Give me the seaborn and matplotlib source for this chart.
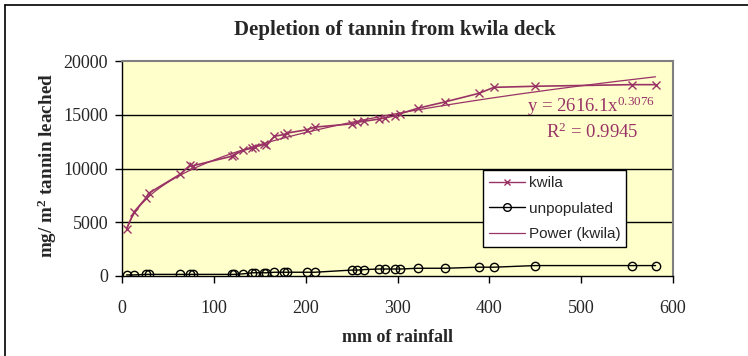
import numpy as np
import pandas as pd
import seaborn as sns
import matplotlib
matplotlib.use("Agg")
import matplotlib.pyplot as plt
from matplotlib.lines import Line2D

# ---- data ----
rainfall = [5, 13, 26, 29, 63, 74, 77, 120, 122, 132, 142, 145, 155, 157, 166, 176, 180,
            201, 210, 250, 256, 264, 280, 286, 297, 303, 322, 352, 389, 405, 450, 555, 581]
kwila = [4400, 5950, 7250, 7700, 9450, 10300, 10250, 11150, 11250, 11700, 11900, 12000,
         12250, 12150, 13000, 13150, 13300, 13600, 13850, 14150, 14300, 14400, 14600, 14700,
         14900, 15100, 15600, 16200, 17000, 17550, 17650, 17800, 17800]
unpopulated = [100, 100, 150, 150, 150, 150, 150, 150, 150, 200, 300, 300, 300, 300, 350,
               350, 350, 350, 350, 550, 550, 600, 650, 650, 650, 650, 720, 720, 820, 820,
               970, 970, 970]
power_coef = 2616.1
power_exp = 0.3076
r_squared = 0.9945
x_ticks = [0, 100, 200, 300, 400, 500, 600]
y_ticks = [0, 5000, 10000, 15000, 20000]

df = pd.DataFrame({"rain": rainfall, "kwila": kwila, "unpop": unpopulated})
trend_x = np.linspace(min(rainfall), max(rainfall), 300)
trend_df = pd.DataFrame({"rain": trend_x, "fit": power_coef * trend_x ** power_exp})

sns.set_theme(style="white")
plt.rcParams['font.family'] = ['Liberation Serif', 'DejaVu Serif']
plt.rcParams['mathtext.fontset'] = 'custom'
plt.rcParams['mathtext.rm'] = 'Liberation Serif'
plt.rcParams['mathtext.it'] = 'Liberation Serif'
plt.rcParams['mathtext.bf'] = 'Liberation Serif:bold'

W, H = 748, 356
fig = plt.figure(figsize=(W / 100, H / 100), dpi=100)
fig.patch.set_facecolor("white")
L, R, T, B = 122, 673, 61, 276
ax = fig.add_axes([L / W, 1 - B / H, (R - L) / W, (B - T) / H])
ax.set_facecolor("#FFFFCC")

plum = "#993366"

for yv in [5000, 10000, 15000]:
    ax.axhline(yv, color="black", lw=1.0, zorder=1)

sns.lineplot(data=trend_df, x="rain", y="fit", ax=ax, color=plum, lw=0.9,
             label="Power (kwila)", zorder=3)
sns.lineplot(data=df, x="rain", y="kwila", ax=ax, color=plum, lw=1.2, marker="x",
             markersize=6, markeredgewidth=1.0, markeredgecolor=plum,
             label="kwila", zorder=4)
sns.lineplot(data=df, x="rain", y="unpop", ax=ax, color="black", lw=1.0, marker="o",
             markersize=6, markerfacecolor="none", markeredgecolor="black",
             markeredgewidth=1.0, label="unpopulated", zorder=4)

ax.set_xlim(0, 600)
ax.set_ylim(0, 20000)
ax.set_xticks(x_ticks)
ax.set_yticks(y_ticks)
ax.set_xticklabels([str(v) for v in x_ticks])
ax.set_yticklabels([str(v) for v in y_ticks])
ax.set_xlabel("")
ax.set_ylabel("")
ax.tick_params(axis="x", direction="out", length=5, width=1, color="black",
               labelsize=13, pad=12, bottom=True)
ax.tick_params(axis="y", direction="out", length=5, width=1, color="black",
               labelsize=13, pad=5, left=True)

for s in ["left", "bottom"]:
    ax.spines[s].set_color("black")
    ax.spines[s].set_linewidth(1.0)
for s in ["top", "right"]:
    ax.spines[s].set_color("#808080")
    ax.spines[s].set_linewidth(1.5)

handles = [
    Line2D([], [], color=plum, lw=1.0, marker="x", markersize=5, markeredgecolor=plum),
    Line2D([], [], color="black", lw=1.0, marker="o", markersize=5.5,
           markerfacecolor="none", markeredgecolor="black"),
    Line2D([], [], color=plum, lw=0.9),
]
leg = ax.legend(handles, ["kwila", "unpopulated", "Power (kwila)"],
                loc="upper left", bbox_to_anchor=((482.7 - L) / (R - L), (B - 170) / (B - T)),
                borderaxespad=0, frameon=True, fancybox=False, shadow=False,
                prop={"family": "Liberation Sans", "size": 11},
                handlelength=2.4, handletextpad=0.2, labelspacing=0.75,
                borderpad=0.4)
leg.get_frame().set_edgecolor("black")
leg.get_frame().set_linewidth(1.0)
leg.get_frame().set_facecolor("white")
leg.get_frame().set_alpha(1)
leg.set_zorder(10)

# title and axis labels
fig.text(395 / W, 1 - 30 / H, "Depletion of tannin from kwila deck", ha="center",
         va="center", fontsize=15, fontweight="bold")
fig.text(398 / W, 1 - 338 / H, "mm of rainfall", ha="center", va="center",
         fontsize=13, fontweight="bold")
fig.text(47 / W, 1 - 166 / H, r"mg/ m$^\mathbf{2}$ tannin leached", ha="center", va="center",
         rotation=90, fontsize=13.8, fontweight="bold")

# trendline equation
fig.text(527 / W, 1 - 106 / H, r"y = 2616.1x$^{%s}$" % f"{power_exp}", ha="left",
         va="center", fontsize=13.5, color=plum)
fig.text(546 / W, 1 - 132 / H, r"R$^{2}$ = %s" % f"{r_squared}", ha="left",
         va="center", fontsize=13.5, color=plum)

# chart-area border (left and top visible)
fig.add_artist(Line2D([5 / W, 5 / W], [0, 1 - 5 / H], transform=fig.transFigure,
                      color="black", lw=1.2))
fig.add_artist(Line2D([5 / W, 1], [1 - 5 / H, 1 - 5 / H], transform=fig.transFigure,
                      color="black", lw=1.2))

fig.savefig("out.png", dpi=100)
